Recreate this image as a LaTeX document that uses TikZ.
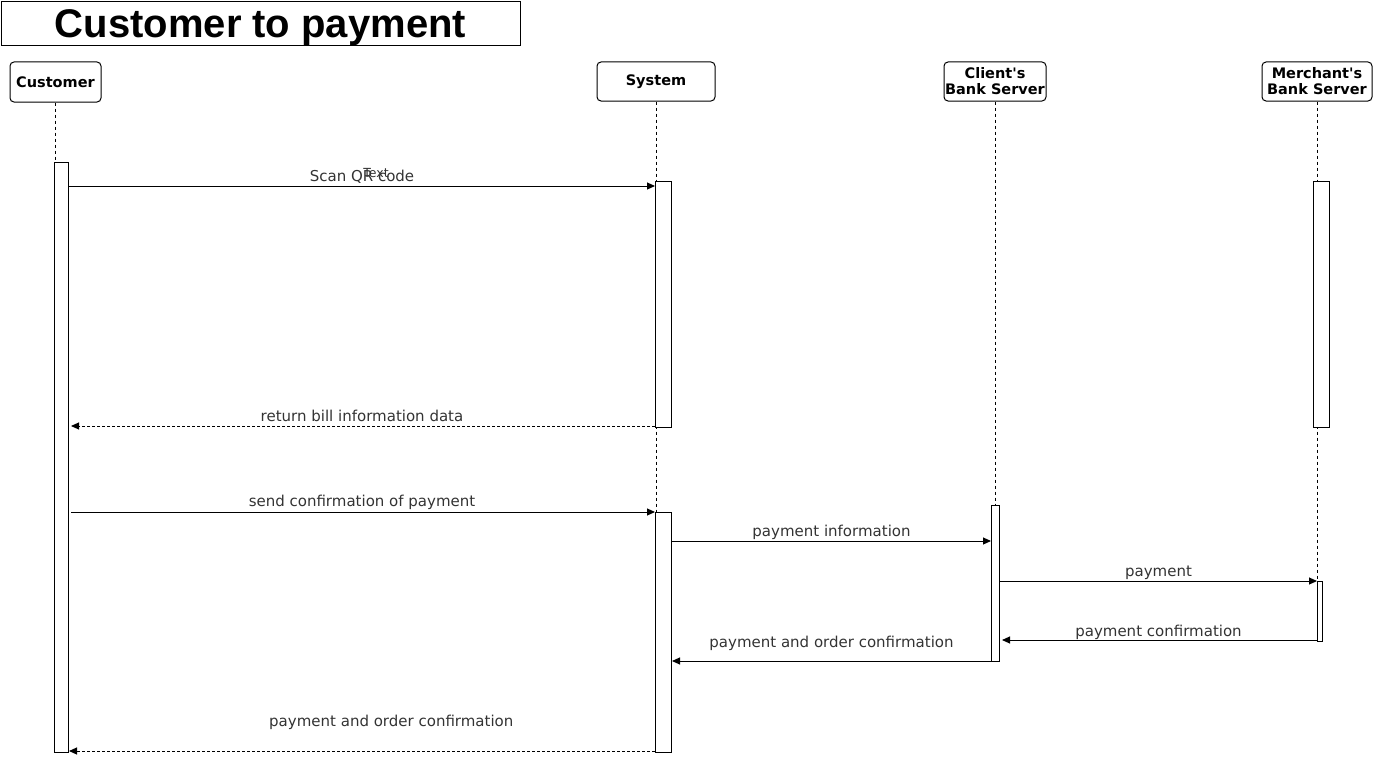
\documentclass[tikz,border=0pt]{standalone}
\usepackage{fontspec}
\setmainfont{DejaVu Sans}
\newfontfamily\titlefont{Liberation Sans}
\usetikzlibrary{arrows.meta}
\begin{document}
\begin{tikzpicture}[
	x=1pt,y=-1pt,
	every node/.style={font=\fontsize{15}{16}\selectfont},
	head/.style={draw,rounded corners=4pt,line width=1pt,align=center,inner sep=0pt,
		font=\bfseries\fontsize{14.5}{16}\selectfont},
	life/.style={line width=0.8pt,dash pattern=on 3pt off 3pt},
	bar/.style={draw,fill=white,line width=1pt,inner sep=0pt,anchor=north west},
	msg/.style={line width=1pt,-{Triangle[length=8pt,width=7pt]}},
	reply/.style={msg,dash pattern=on 3pt off 2pt},
	lbl/.style={text=black!80,anchor=base,inner sep=0pt}
	]
	\useasboundingbox (0,0) rectangle (1373,760);
	\node[draw,line width=1pt,minimum width=519pt,minimum height=44pt,inner sep=0pt,
		text height=29pt,text depth=2pt,
		font=\titlefont\bfseries\fontsize{40}{44}\selectfont] (title) at (260.5,24) {Customer to payment};
	\node[head,minimum width=91pt,minimum height=40pt] (cust) at (55.5,82) {Customer};
	\node[head,minimum width=118pt,minimum height=39pt] (sys) at (656,81.5) {System};
	\node[head,minimum width=102pt,minimum height=39pt] (cli) at (995,81.5) {Client\textquotesingle s\\Bank Server};
	\node[head,minimum width=110pt,minimum height=39pt] (mer) at (1317,81.5) {Merchant\textquotesingle s\\Bank Server};
	\def\actbar#1#2#3#4#5{
		\node[bar,minimum width=#4pt,minimum height=#5pt] (#1) at (#2,#3) {};
	}
	\draw[life] (cust.south) -- (cust.south |- 0,752);
	\draw[life] (sys.south) -- (sys.south |- 0,752);
	\draw[life] (cli.south) -- (cli.south |- 0,661);
	\draw[life] (mer.south) -- (mer.south |- 0,641);
	\actbar{custbar}{54}{162}{14}{590}
	\actbar{sysbar1}{655}{181}{16}{246}
	\actbar{sysbar2}{655}{512}{16}{240}
	\actbar{clibar}{991}{505}{8}{156}
	\actbar{merbar1}{1313}{181}{16}{246}
	\actbar{merbar2}{1317}{581}{5}{60}
	\coordinate (m1) at (0,186);
	\coordinate (m2) at (0,426);
	\coordinate (m3) at (0,512);
	\coordinate (m4) at (0,541);
	\coordinate (m5) at (0,581);
	\coordinate (m6) at (0,640);
	\coordinate (m7) at (0,661);
	\coordinate (m8) at (0,751);
	\draw[msg] (custbar.east |- m1) -- (sysbar1.west |- m1)
		node[lbl,midway,yshift=5pt] (l1) {Scan QR code};
	\node[lbl,font=\fontsize{12.5}{14}\selectfont] (txt) at (376,177) {Text};
	\draw[reply,shorten >=2pt] (sysbar1.west |- m2) -- (custbar.east |- m2)
		node[lbl,midway,yshift=5pt] (l2) {return bill information data};
	\draw[msg,shorten <=2pt] (custbar.east |- m3) -- (sysbar2.west |- m3)
		node[lbl,midway,yshift=6pt] (l3) {send confirmation of payment};
	\draw[msg] (sysbar2.east |- m4) -- (clibar.west |- m4)
		node[lbl,midway,yshift=5pt] (l4) {payment information};
	\draw[msg] (clibar.east |- m5) -- (merbar2.west |- m5)
		node[lbl,midway,yshift=5pt] (l5) {payment};
	\draw[msg,shorten >=2pt] (merbar2.west |- m6) -- (clibar.east |- m6)
		node[lbl,midway,yshift=4pt] (l6) {payment confirmation};
	\draw[msg] (clibar.west |- m7) -- (sysbar2.east |- m7)
		node[lbl,midway,yshift=14pt] (l7) {payment and order confirmation};
	\draw[reply] (sysbar2.west |- m8) -- (custbar.east |- m8)
		node[lbl,pos=0.45,yshift=25pt] (l8) {payment and order confirmation};
\end{tikzpicture}
\end{document}
